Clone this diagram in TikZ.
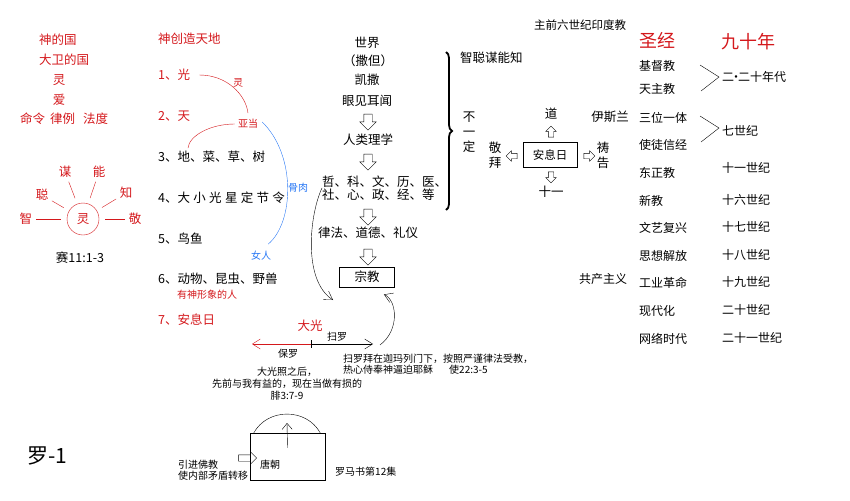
\documentclass[tikz,border=0pt]{standalone}
\usepackage{fontspec}
\setmainfont{Noto Sans CJK SC}
\usetikzlibrary{arrows.meta,shapes.arrows,decorations.pathreplacing}
\definecolor{bibred}{RGB}{212,24,28}
\definecolor{bibblue}{RGB}{40,120,245}
\newcommand\gp{\hspace{3.3pt}}

\begin{document}
\begin{tikzpicture}[
  x=1pt,y=-1pt,
  every node/.style={inner sep=0pt},
  txt/.style={font=\fontsize{12.5}{15}\selectfont},
  rtxt/.style={txt,text=bibred},
  small/.style={font=\fontsize{10}{12}\selectfont},
  big/.style={font=\fontsize{18}{20}\selectfont},
  hollow/.style={single arrow,draw,inner sep=4pt,single arrow head extend=4pt,minimum height=16pt},
  hollowS/.style={single arrow,draw,inner sep=2.5pt,single arrow head extend=2.5pt,minimum height=11pt},
  box/.style={draw,line width=0.9pt},
  ray/.style={draw=bibred,shorten <=4pt,shorten >=6pt},
  barb/.style={-{Straight Barb[length=8pt,width=10pt]}},
]
  \useasboundingbox (0,0) rectangle (850,500);

  % Kingdom column
  \node[rtxt,anchor=west] (kingdom) at (39,40) {神的国};
  \node[rtxt,anchor=west] (david) at (39,60) {大卫的国};
  \node[rtxt] (spirit) at (59,80) {灵};
  \node[rtxt] (love) at (59,100) {爱};
  \node[rtxt,anchor=west] (law) at (20,119) {命令\hspace{5pt}律例\hspace{8pt}法度};

  % Spirit circle
  \node[circle,draw=bibred,minimum size=32pt,rtxt] (ling) at (83,219) {灵};
  \node[rtxt] (zhi) at (26,219) {智};
  \node[rtxt] (cong) at (42,195) {聪};
  \node[rtxt] (mou) at (65,172) {谋};
  \node[rtxt] (neng) at (99,172) {能};
  \node[rtxt] (zhi2) at (126,193) {知};
  \node[rtxt] (jing) at (135,219) {敬};
  \foreach \n in {zhi,cong,mou,neng,zhi2,jing}
    \draw[ray] (\n) -- (ling);
  \node[txt] (isa) at (80,258) {赛11:1-3};

  % Creation days
  \node[rtxt,anchor=west] (create) at (158,39) {神创造天地};
  \node[rtxt,anchor=west] (d1) at (158,75) {1、光};
  \node[rtxt,anchor=west] (d2) at (158,116) {2、天};
  \node[txt,anchor=west] (d3) at (158,157) {3、地、菜、草、树};
  \node[txt,anchor=west] (d4) at (158,198) {4、大\gp 小\gp 光\gp 星\gp 定\gp 节\gp 令};
  \node[txt,anchor=west] (d5) at (158,239) {5、鸟鱼};
  \node[txt,anchor=west] (d6) at (158,279) {6、动物、昆虫、野兽};
  \node[small,text=bibred] (image) at (207,295) {有神形象的人};
  \node[rtxt,anchor=west] (d7) at (158,320) {7、安息日};

  % Adam and woman
  \node[small,text=bibred] (breath) at (238,83) {灵};
  \node[small,text=bibred] (adam) at (248,124) {亚当};
  \node[small,text=bibblue] (flesh) at (298,188) {骨肉};
  \node[small,text=bibblue] (woman) at (261,256) {女人};
  \draw[bibred] ([xshift=9pt]d1.east) .. controls +(28,0) and +(-2,-18) .. ([yshift=6pt]adam.north);
  \draw[bibred] ([xshift=-3pt]adam.west) .. controls +(-25,0) and +(1,-12) .. ([xshift=30pt,yshift=3pt]d3.north west);
  \draw[bibblue] ([xshift=4pt,yshift=2pt]adam.east) .. controls +(34,33) and +(26,-22) .. ([xshift=-3pt,yshift=7pt]woman.north east);

  % World column
  \node[txt] (world) at (367,43) {世界};
  \node[txt] (satan) at (368,61) {（撒但）};
  \node[txt] (caesar) at (367,80) {凯撒};
  \node[txt] (senses) at (367,101) {眼见耳闻};
  \node[hollow,shape border rotate=270] (a1) at (368,120) {};
  \node[txt] (reason) at (368,140) {人类理学};
  \node[hollow,shape border rotate=270] (a2) at (368,160) {};
  \node[txt,anchor=west,align=left,font=\fontsize{12.5}{13.5}\selectfont] (fields) at (322,188) {哲、科、文、历、医、\\社、心、政、经、等};
  \node[hollow,shape border rotate=270] (a3) at (368,215) {};
  \node[txt] (ethics) at (368,233) {律法、道德、礼仪};
  \node[hollow,shape border rotate=270] (a4) at (368,255) {};
  \node[txt,box,minimum width=55pt,minimum height=20pt] (religion) at (367,277) {宗教};
  \draw[decorate,decoration={brace,amplitude=6pt},line width=1.8pt] (446,52) -- (446,210);

  % Curved arrows to religion
  \coordinate (fallin) at (333,300);
  \coordinate (saulup) at (380,345);
  \draw[barb] (fields.west) .. controls +(-12,25) and (302,280) .. (fallin);
  \draw[barb] (saulup) .. controls +(20,-15) and (397,300) .. ([xshift=-11pt,yshift=-7pt]religion.south east);

  % Timeline of Paul
  \coordinate (light) at (311,344);
  \coordinate (paul) at (252,344);
  \coordinate (saul) at (373,344);
  \draw[bibred,barb] (light) -- (paul);
  \draw[barb] (light) -- (saul);
  \draw ([yshift=4pt]light) -- ([yshift=-4pt]light);
  \node[rtxt] (biglight) at (310,326) {大光};
  \node[small] (saulname) at (337,337) {扫罗};
  \node[small] (paulname) at (288,354) {保罗};
  \node[small,anchor=west,align=left,font=\fontsize{10}{11}\selectfont] (acts) at (343,364) {扫罗拜在迦玛列门下，按照严谨律法受教，\\热心侍奉神逼迫耶稣\hspace{16pt}使22:3-5};
  \node[small,align=center,font=\fontsize{10}{12}\selectfont] (phil) at (287,384) {大光照之后，\\先前与我有益的，现在当做有损的\\腓3:7-9};

  % Tang dynasty
  \node[font=\fontsize{21}{24}\selectfont] (title) at (47,456) {罗-1};
  \node[draw,minimum width=75pt,minimum height=47pt] (tang) at (287.5,456.5) {};
  \node[small] (tangname) at (270,465) {唐朝};
  \draw ([xshift=4pt]tang.north west) .. controls +(14,-25) and +(-14,-25) .. ([xshift=-5pt]tang.north east);
  \coordinate (up) at (287,423);
  \draw[-{Straight Barb[length=6pt,width=10pt]}] ([yshift=-15pt]tang.north) -- (up);
  \node[hollowS,inner sep=3pt,single arrow head extend=3pt,minimum height=18pt] (into) at (246,458) {};
  \node[small,anchor=west,align=left,font=\fontsize{10}{11}\selectfont] (buddha) at (178,470) {引进佛教\\使内部矛盾转移};
  \node[small,anchor=west] (romans) at (335,472) {罗马书第12集};

  % Sabbath cross
  \node[txt,font=\fontsize{11.5}{14}\selectfont] (hindu) at (580,25) {主前六世纪印度教};
  \node[txt,anchor=west] (wisdom) at (460,58) {智聪谋能知};
  \node[txt,align=center,font=\fontsize{12.5}{15}\selectfont] (unsure) at (469,132) {不\\一\\定};
  \node[txt] (dao) at (551,114) {道};
  \node[txt,box,minimum width=54pt,minimum height=25pt,font=\fontsize{11.5}{14}\selectfont] (sabbath) at (550,155) {安息日};
  \node[txt] (eleven) at (551,192) {十一};
  \node[txt,align=center,font=\fontsize{12.5}{15}\selectfont] (worship) at (495,155) {敬\\拜};
  \node[txt,align=center,font=\fontsize{12.5}{15}\selectfont] (pray) at (603,155) {祷\\告};
  \node[txt] (islam) at (610,117) {伊斯兰};
  \node[hollowS,shape border rotate=90] (au) at (551,133) {};
  \node[hollowS,shape border rotate=270] (ad) at (551,176) {};
  \node[hollowS,shape border rotate=180] (al) at (513,156) {};
  \node[hollowS] (ar) at (588,156) {};

  % Bible and ninety years
  \node[big,text=bibred,anchor=west] (bible) at (639,40) {圣经};
  \node[big,text=bibred] (ninety) at (748,42) {九十年};
  \foreach \y/\t/\nm in {66/基督教/jidu,89/天主教/tianzhu,118/三位一体/sanwei,145/使徒信经/shitu,173/东正教/dongzheng,201/新教/xinjiao,228/文艺复兴/wenyi,256/思想解放/sixiang,283/工业革命/gongye,311/现代化/xiandai,339/网络时代/wangluo}
    \node[txt,anchor=west,font=\fontsize{12}{14}\selectfont] (\nm) at (639,\y) {\t};
  \foreach \y/\t/\nm in {77/二\hspace{-4pt}·\hspace{-4pt}二十年代/c20s,131/七世纪/c7,168/十一世纪/c11,200/十六世纪/c16,227/十七世纪/c17,255/十八世纪/c18,282/十九世纪/c19,310/二十世纪/c20,338/二十一世纪/c21}
    \node[txt,anchor=west,font=\fontsize{12}{14}\selectfont] (\nm) at (722,\y) {\t};
  \node[txt,font=\fontsize{12}{14}\selectfont] (communism) at (603,279) {共产主义};
  \draw ([xshift=-22pt,yshift=12pt]c20s.west) -- ([xshift=-3pt]c20s.west) -- ([xshift=-21pt,yshift=-14pt]c20s.west);
  \draw ([xshift=-22pt,yshift=15pt]c7.west) -- ([xshift=-3pt,yshift=3pt]c7.west) -- ([xshift=-21pt,yshift=-11pt]c7.west);
\end{tikzpicture}
\end{document}
